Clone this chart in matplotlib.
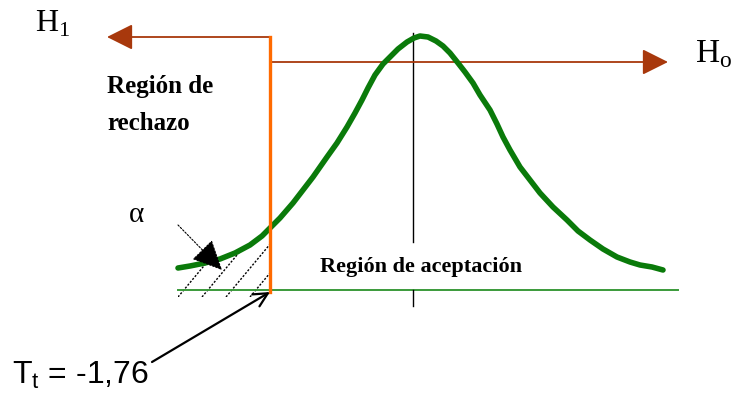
import numpy as np
import matplotlib
matplotlib.use("Agg")
from matplotlib import pyplot as plt
from matplotlib.patches import Polygon

# curve (pixel positions, y grows downward)
curve_x = np.array([178, 190, 205, 220, 235, 250, 262, 270, 280, 293, 303, 313,
                    320, 327, 337, 347, 355, 362, 368, 375, 383, 390, 398, 407,
                    414, 420, 428, 436, 443, 450, 458, 465, 473, 480, 490, 497,
                    503, 510, 520, 530, 540, 553, 567, 578, 590, 603, 617, 630,
                    640, 652, 663])
curve_y = np.array([268, 266, 263, 259, 253, 245, 236, 228, 218, 203, 190, 177,
                    167, 157, 143, 127, 113, 100, 88, 75, 64, 57, 49, 42,
                    38, 36, 37, 41, 46, 53, 63, 72, 83, 95, 110, 124,
                    137, 150, 167, 180, 193, 207, 220, 231, 240, 249, 257, 262,
                    265, 267, 270])

t_crit_x = 270      # critical value line
mean_x = 413        # centre line
base_y = 290        # green base line
h1_y = 37
h0_y = 62
label_tt = "T$_\\mathregular{t}$ = -1,76"
label_rej = ["Región de", "rechazo"]
label_acc = "Región de aceptación"

fig = plt.figure(figsize=(7.37, 3.96), dpi=100)
ax = fig.add_axes([0, 0, 1, 1])
ax.set_xlim(0, 737)
ax.set_ylim(396, 0)
ax.axis('off')

serif = 'Liberation Serif'
sans = 'Liberation Sans'

# hatched tail (rejection area)
tail = curve_x <= t_crit_x
poly_pts = list(zip(curve_x[tail], curve_y[tail] - 2)) + [(t_crit_x, 297), (curve_x[0], 297)]
clip = Polygon(poly_pts, closed=True, facecolor='none', edgecolor='none')
ax.add_patch(clip)
for x0 in np.arange(178, 300, 24):
    ln, = ax.plot([x0, x0 + 80], [297, 297 - 96], color='black', lw=1.0,
                  ls=(0, (1.5, 1.2)))
    ln.set_clip_path(clip)

# base line and centre line
ax.plot([curve_x[0], 678], [base_y, base_y], color='#3a9a3a', lw=1.4)
ax.plot([mean_x, mean_x], [33, 242], color='black', lw=1.0)
ax.plot([mean_x, mean_x], [base_y, 306], color='black', lw=1.0)

# H1 / Ho arrows
ax.plot([t_crit_x, t_crit_x], [h1_y, 292], color='#ff6a00', lw=2.4, zorder=4)
ax.annotate("", xy=(107, h1_y), xytext=(t_crit_x, h1_y),
            arrowprops=dict(arrowstyle='-|>,head_length=1.6,head_width=0.8',
                            mutation_scale=10, color='#a8380c', lw=1.3,
                            shrinkA=0, shrinkB=0))
ax.annotate("", xy=(668, h0_y), xytext=(t_crit_x, h0_y),
            arrowprops=dict(arrowstyle='-|>,head_length=1.6,head_width=0.8',
                            mutation_scale=10, color='#a8380c', lw=1.3,
                            shrinkA=0, shrinkB=0))

# density curve
ax.plot(curve_x, curve_y, color='#0a7a0a', lw=4.0, solid_capstyle='round',
        solid_joinstyle='round', zorder=3)

# alpha arrow
ax.annotate("", xy=(222, 270), xytext=(178, 225),
            arrowprops=dict(arrowstyle='-|>,head_length=1.9,head_width=0.9',
                            mutation_scale=10, color='black', lw=0.8,
                            ls=(0, (1.5, 1.5)), shrinkA=0, shrinkB=0), zorder=5)

# Tt arrow
ax.annotate("", xy=(t_crit_x, 292), xytext=(152, 362),
            arrowprops=dict(arrowstyle='->,head_length=1.0,head_width=0.5',
                            mutation_scale=10, color='black', lw=1.6,
                            shrinkA=0, shrinkB=0), zorder=5)

# texts
ax.text(35, 32, "H$_\\mathregular{1}$", fontfamily=serif, fontsize=23, va='baseline')
ax.text(695, 62, "H$_\\mathregular{o}$", fontfamily=serif, fontsize=24, va='baseline')
ax.text(107, 93, label_rej[0], fontfamily=serif, fontsize=18, fontweight='bold',
        va='baseline')
ax.text(107, 130, label_rej[1], fontfamily=serif, fontsize=18, fontweight='bold',
        va='baseline')
ax.text(320, 272, label_acc, fontfamily=serif, fontsize=16, fontweight='bold',
        va='baseline')
ax.text(129, 222, "α", fontfamily=serif, fontsize=21, va='baseline')
ax.text(12, 384, label_tt, fontfamily=sans, fontsize=23, va='baseline')

fig.savefig('out.png', dpi=100)
